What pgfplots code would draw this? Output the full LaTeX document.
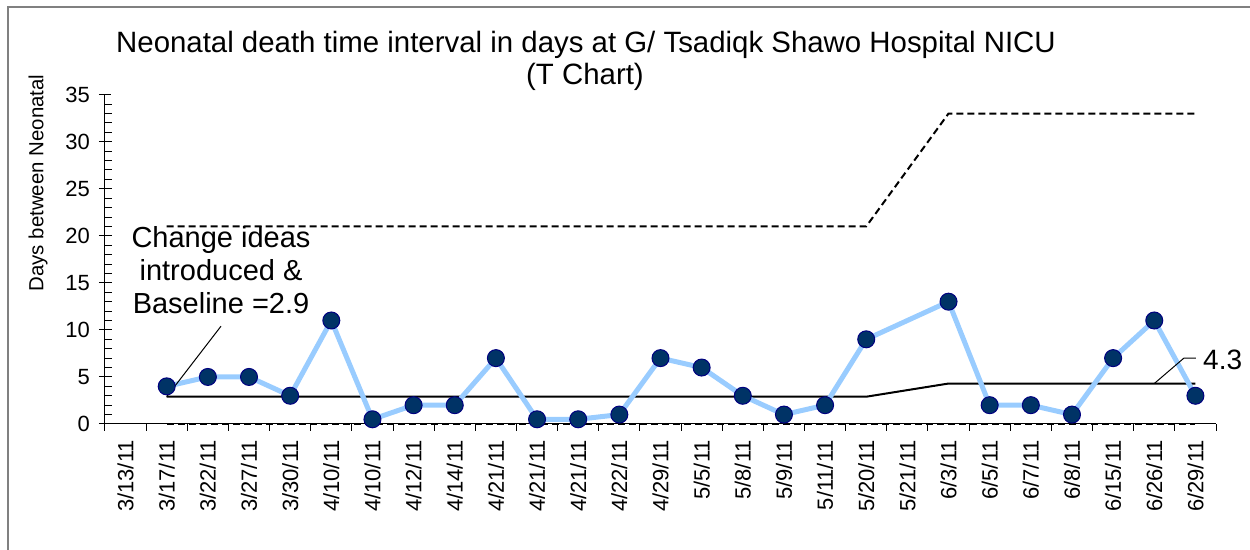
\documentclass[border=0pt]{standalone}
\usepackage{pgfplots}
\pgfplotsset{compat=1.18}
\usepackage{fontspec}
\setmainfont{Liberation Sans}
\definecolor{linebl}{HTML}{99CCFF}
\definecolor{mkfill}{HTML}{003366}
\definecolor{mkdraw}{HTML}{000080}
\definecolor{frame}{HTML}{808080}

\pgfplotstableread{
x y
1 4
2 5
3 5
4 3
5 11
6 0.5
7 2
8 2
9 7
10 0.5
11 0.5
12 1
13 7
14 6
15 3
16 1
17 2
18 9
20 13
21 2
22 2
23 1
24 7
25 11
26 3
}\datatable

\begin{document}
\begin{tikzpicture}
\path[use as bounding box] (-52.5pt,-63pt) rectangle (572.5pt,212pt);
\draw[frame, line width=1pt] (-48.5pt,-63pt) -- (-48.5pt,208.5pt) -- (572.5pt,208.5pt);
\begin{axis}[
  scale only axis, width=555.5pt, height=164.65pt,
  xmin=-0.5, xmax=26.5, ymin=0, ymax=35,
  axis lines=left, axis line style={-, line width=0.5pt, black},
  clip=false,
  xtick={0,...,26},
  xticklabels={3/13/11,3/17/11,3/22/11,3/27/11,3/30/11,4/10/11,4/10/11,4/12/11,4/14/11,4/21/11,4/21/11,4/21/11,4/22/11,4/29/11,5/5/11,5/8/11,5/9/11,5/11/11,5/20/11,5/21/11,6/3/11,6/5/11,6/7/11,6/8/11,6/15/11,6/26/11,6/29/11},
  minor xtick={-0.5,0.5,...,26.5},
  ytick={0,5,...,35},
  minor ytick={1,...,34},
  major tick length=6pt, minor tick length=3.5pt,
  xtick align=outside, ytick align=center,
  every major x tick/.append style={draw=none},
  every minor y tick/.append style={xshift=1.75pt},
  tick style={black, line width=0.5pt},
  /pgf/number format/assume math mode=true,
  ticklabel style={font=\fontsize{11}{13}\selectfont},
  xticklabel style={rotate=90, anchor=east},
  xticklabel shift=-1.5pt,
  yticklabel style={xshift=-1pt},
]
\addplot[black, line width=1pt, dash pattern=on 3.5pt off 2pt] coordinates {(1,21) (18,21) (20,33) (26,33)};
\addplot[black, line width=1.2pt, dash pattern=on 3.5pt off 2pt] coordinates {(1,0) (26,0)};
\addplot[black, line width=1pt] coordinates {(1,2.9) (18,2.9) (20,4.3) (26,4.3)};
\addplot[linebl, line width=2.5pt, mark=*, mark size=4.25pt, mark options={fill=mkfill, draw=mkdraw, line width=0.5pt}] table[x=x,y=y] {\datatable};
\draw[black, line width=0.5pt] (axis cs:2.32,10.4) -- (axis cs:1,2.9);
\node[align=center, font=\fontsize{14.5}{16.5}\selectfont] at (axis cs:2.32,16.3) {Change ideas\\ introduced \&\\Baseline =2.9};
\draw[black, line width=0.5pt] (axis cs:25,4.3) -- (axis cs:25.72,7.0) -- (axis cs:26.01,7.0);
\node[anchor=west, inner sep=0pt, font=\fontsize{14}{16}\selectfont] at (axis cs:26.18,6.8) {4.3};
\end{axis}
\node[font=\fontsize{14.7}{17}\selectfont] at (240.5pt,189.5pt) {Neonatal death time interval in days at G/ Tsadiqk Shawo Hospital NICU};
\node[font=\fontsize{14.7}{17}\selectfont] at (240pt,173.5pt) {(T Chart)};
\node[rotate=90, font=\fontsize{10.2}{12}\selectfont] at (-33.5pt,120.5pt) {Days between Neonatal};
\end{tikzpicture}
\end{document}
